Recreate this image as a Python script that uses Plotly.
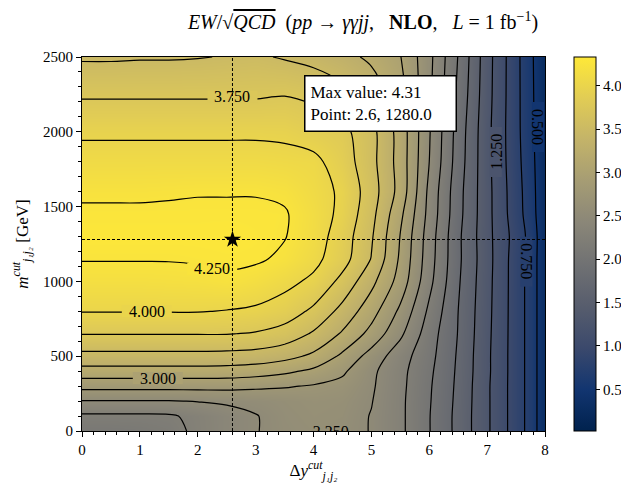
import plotly.graph_objects as go
from plotly.colors import sample_colorscale

# ---------------- data ----------------
x_vals = [0, 0.5, 1, 1.5, 2, 2.5, 3, 3.5, 4, 4.5, 5, 5.5, 6, 6.5, 7, 7.5, 7.75, 8]
y_vals = [0, 100, 200, 300, 400, 500, 650, 800, 1000, 1150, 1300, 1450, 1600, 1800, 2000, 2250, 2500]

z_y0000 = [2.10, 2.10, 2.12, 2.17, 2.30, 2.42, 2.49, 2.57, 2.60, 2.58, 2.49, 2.30, 2.01, 1.68, 1.29, 0.88, 0.66, 0.30]
z_y0100 = [2.21, 2.21, 2.21, 2.22, 2.31, 2.42, 2.49, 2.58, 2.62, 2.60, 2.49, 2.30, 2.01, 1.68, 1.29, 0.88, 0.66, 0.30]
z_y0200 = [2.49, 2.49, 2.49, 2.49, 2.51, 2.53, 2.56, 2.60, 2.64, 2.62, 2.51, 2.30, 2.02, 1.69, 1.29, 0.88, 0.66, 0.30]
z_y0300 = [2.83, 2.83, 2.83, 2.83, 2.83, 2.83, 2.80, 2.77, 2.73, 2.68, 2.53, 2.31, 2.03, 1.70, 1.29, 0.88, 0.66, 0.30]
z_y0400 = [3.16, 3.16, 3.16, 3.16, 3.16, 3.15, 3.12, 3.05, 2.95, 2.79, 2.55, 2.32, 2.05, 1.71, 1.30, 0.88, 0.66, 0.30]
z_y0500 = [3.43, 3.43, 3.43, 3.43, 3.43, 3.42, 3.40, 3.33, 3.20, 2.95, 2.65, 2.36, 2.08, 1.72, 1.30, 0.88, 0.66, 0.30]
z_y0650 = [3.76, 3.76, 3.76, 3.76, 3.76, 3.76, 3.73, 3.65, 3.47, 3.22, 2.92, 2.55, 2.12, 1.74, 1.31, 0.88, 0.66, 0.30]
z_y0800 = [4.01, 4.01, 4.01, 4.01, 4.01, 3.99, 3.96, 3.88, 3.70, 3.42, 3.10, 2.70, 2.20, 1.75, 1.32, 0.88, 0.66, 0.30]
z_y1000 = [4.17, 4.17, 4.17, 4.18, 4.19, 4.22, 4.16, 4.07, 3.95, 3.68, 3.32, 2.90, 2.32, 1.78, 1.33, 0.88, 0.66, 0.30]
z_y1150 = [4.26, 4.26, 4.26, 4.26, 4.27, 4.28, 4.28, 4.21, 4.07, 3.85, 3.49, 2.96, 2.36, 1.80, 1.34, 0.88, 0.66, 0.30]
z_y1300 = [4.30, 4.30, 4.30, 4.30, 4.30, 4.31, 4.29, 4.26, 4.12, 3.88, 3.53, 2.99, 2.38, 1.80, 1.33, 0.90, 0.67, 0.30]
z_y1450 = [4.28, 4.28, 4.28, 4.28, 4.28, 4.28, 4.28, 4.27, 4.13, 3.94, 3.58, 3.06, 2.42, 1.83, 1.33, 0.86, 0.63, 0.28]
z_y1600 = [4.22, 4.22, 4.22, 4.23, 4.24, 4.24, 4.24, 4.21, 4.10, 3.96, 3.62, 3.16, 2.44, 1.84, 1.33, 0.85, 0.62, 0.27]
z_y1800 = [4.10, 4.10, 4.10, 4.10, 4.10, 4.10, 4.10, 4.08, 4.06, 3.88, 3.58, 3.15, 2.50, 1.88, 1.32, 0.83, 0.60, 0.26]
z_y2000 = [3.96, 3.96, 3.96, 3.96, 3.96, 3.96, 3.96, 3.95, 3.88, 3.82, 3.58, 3.15, 2.52, 1.90, 1.32, 0.82, 0.58, 0.25]
z_y2250 = [3.72, 3.72, 3.72, 3.72, 3.72, 3.72, 3.72, 3.74, 3.70, 3.58, 3.40, 3.10, 2.55, 1.95, 1.34, 0.82, 0.57, 0.25]
z_y2500 = [3.47, 3.47, 3.48, 3.48, 3.49, 3.51, 3.53, 3.48, 3.42, 3.33, 3.20, 3.01, 2.57, 1.99, 1.35, 0.82, 0.56, 0.25]

z_grid = [z_y0000, z_y0100, z_y0200, z_y0300, z_y0400, z_y0500, z_y0650, z_y0800,
          z_y1000, z_y1150, z_y1300, z_y1450, z_y1600, z_y1800, z_y2000, z_y2250, z_y2500]

max_value = 4.31
max_point_x = 2.6
max_point_y = 1280.0

level_start, level_end, level_step = 0.5, 4.25, 0.25
colorbar_ticks = [0.5, 1.0, 1.5, 2.0, 2.5, 3.0, 3.5, 4.0]
color_min, color_max = 0.02, 4.33

# contour labels: level value, position, angle (layout)
label_levels = [3.75, 4.25, 4.0, 3.0, 1.25, 0.75, 0.5]
label_xpos = [2.6, 2.25, 1.12, 1.31, 7.15, 7.68, 7.88]
label_ypos = [2235, 1085, 802, 354, 1865, 1132, 2032]
label_angle = [0, 0, 0, 0, -90, 90, 90]
clipped_label_level = 2.25
clipped_label_x = 4.3
clipped_label_y = -15

# ---------------- style ----------------
FONT = "Liberation Serif, DejaVu Serif, serif"
OFF = 8                      # page body margin of the html page
WIN_W, WIN_H = 629, 483
W, H = WIN_W - OFF, WIN_H - OFF
L, T = 82 - OFF, 57 - OFF
R, B = WIN_W - 545, WIN_H - 431
plot_w = W - L - R
plot_h = H - T - B
x_per_px = 8.0 / plot_w
y_per_px = 2500.0 / plot_h
LABEL_SIZE = 16

fig = go.Figure()

fig.add_trace(go.Heatmap(
    x=x_vals, y=y_vals, z=z_grid,
    colorscale="Cividis", zmin=color_min, zmax=color_max,
    zsmooth="best",
    colorbar=dict(
        thickness=22, len=plot_h, lenmode="pixels",
        x=(574 - 82) / plot_w, xanchor="left", xpad=0,
        y=0.5, yanchor="middle", ypad=0,
        outlinewidth=1, outlinecolor="black",
        tickvals=colorbar_ticks, ticktext=[f"{v:.1f}" for v in colorbar_ticks],
        ticks="outside", ticklen=4, tickcolor="black",
        tickfont=dict(family=FONT, size=15, color="black"),
    ),
    hoverinfo="skip",
))

fig.add_trace(go.Contour(
    x=x_vals, y=y_vals, z=z_grid,
    contours=dict(start=level_start, end=level_end, size=level_step,
                  coloring="none", showlabels=False),
    line=dict(color="black", width=1.2, smoothing=1.0),
    showscale=False, hoverinfo="skip",
))

# clipped label along the bottom edge
fig.add_trace(go.Scatter(
    x=[clipped_label_x], y=[clipped_label_y], mode="text",
    text=[f"{clipped_label_level:.3f}"], textposition="middle center",
    textfont=dict(family=FONT, size=LABEL_SIZE, color="black"),
    cliponaxis=True, showlegend=False, hoverinfo="skip",
))

shapes = []
annotations = []
for lv, lx, ly, ang in zip(label_levels, label_xpos, label_ypos, label_angle):
    col = sample_colorscale("Cividis", [(lv - color_min) / (color_max - color_min)])[0]
    if ang == 0:
        hw, hh = 25, 6
    else:
        hw, hh = 6, 25
    shapes.append(dict(type="rect", xref="x", yref="y",
                       x0=lx - hw * x_per_px, x1=lx + hw * x_per_px,
                       y0=ly - hh * y_per_px, y1=ly + hh * y_per_px,
                       fillcolor=col, line=dict(width=0), layer="above"))
    annotations.append(dict(x=lx, y=ly, xref="x", yref="y", text=f"{lv:.3f}",
                            showarrow=False, textangle=ang,
                            font=dict(family=FONT, size=LABEL_SIZE, color="black")))

# crosshair
shapes.append(dict(type="line", xref="x", yref="y", x0=max_point_x, x1=max_point_x, y0=0, y1=2500,
                   line=dict(color="black", width=1, dash="3px,2px"), layer="above"))
shapes.append(dict(type="line", xref="x", yref="y", x0=0, x1=8, y0=max_point_y, y1=max_point_y,
                   line=dict(color="black", width=1, dash="3px,2px"), layer="above"))

fig.add_trace(go.Scatter(
    x=[max_point_x], y=[max_point_y], mode="markers",
    marker=dict(symbol="star", size=13, color="black"),
    showlegend=False, hoverinfo="skip",
))

annotations.append(dict(
    x=3.84, y=2378, xref="x", yref="y", xanchor="left", yanchor="top",
    text=f"Max value: {max_value:.2f}<br>Point: {max_point_x}, {max_point_y}",
    showarrow=False, align="left", width=140, height=44,
    bgcolor="white", bordercolor="black", borderwidth=1.5, borderpad=5,
    font=dict(family=FONT, size=17, color="black"),
))

axis_common = dict(showline=True, linecolor="black", linewidth=1, mirror=True,
                   showgrid=False, zeroline=False, ticks="outside", ticklen=5,
                   tickcolor="black", automargin=False,
                   tickfont=dict(family=FONT, size=15, color="black"))

NB = "\u00a0"
fig.update_layout(
    width=W, height=H,
    margin=dict(l=L, r=R, t=T, b=B, autoexpand=False),
    paper_bgcolor="white", plot_bgcolor="white",
    shapes=shapes, annotations=annotations,
    title=dict(
        text="<i>EW</i>/√<span style='text-decoration:overline'><i>QCD</i></span>" + NB * 2 +
             "(<i>pp</i>" + NB + "→" + NB + "<i>γγjj</i>," + NB * 3 + "<b>NLO</b>," + NB * 3 +
             "<i>L</i>" + NB + "=" + NB + "1" + NB + "fb<sup>−1</sup>)",
        x=(363 - OFF) / W, xref="container", xanchor="center",
        y=1 - (22 - OFF) / H, yref="container", yanchor="middle",
        font=dict(family=FONT, size=20, color="black"),
    ),
    xaxis=dict(range=[0, 8], dtick=1, tick0=0,
               minor=dict(dtick=0.2, ticks="outside", ticklen=3, tickcolor="black"),
               title=dict(text="Δ<i>y</i><sup><i>cut</i></sup><sub><i>j₁j₂</i></sub>",
                          font=dict(family=FONT, size=17, color="black"), standoff=1),
               **axis_common),
    yaxis=dict(range=[0, 2500], dtick=500, tick0=0,
               minor=dict(dtick=100, ticks="outside", ticklen=3, tickcolor="black"),
               title=dict(text="<i>m</i><sup><i>cut</i></sup><sub><i>j₁j₂</i></sub> [GeV]",
                          font=dict(family=FONT, size=17, color="black"), standoff=10),
               **axis_common),
    showlegend=False,
)

fig.write_html("out.html")
